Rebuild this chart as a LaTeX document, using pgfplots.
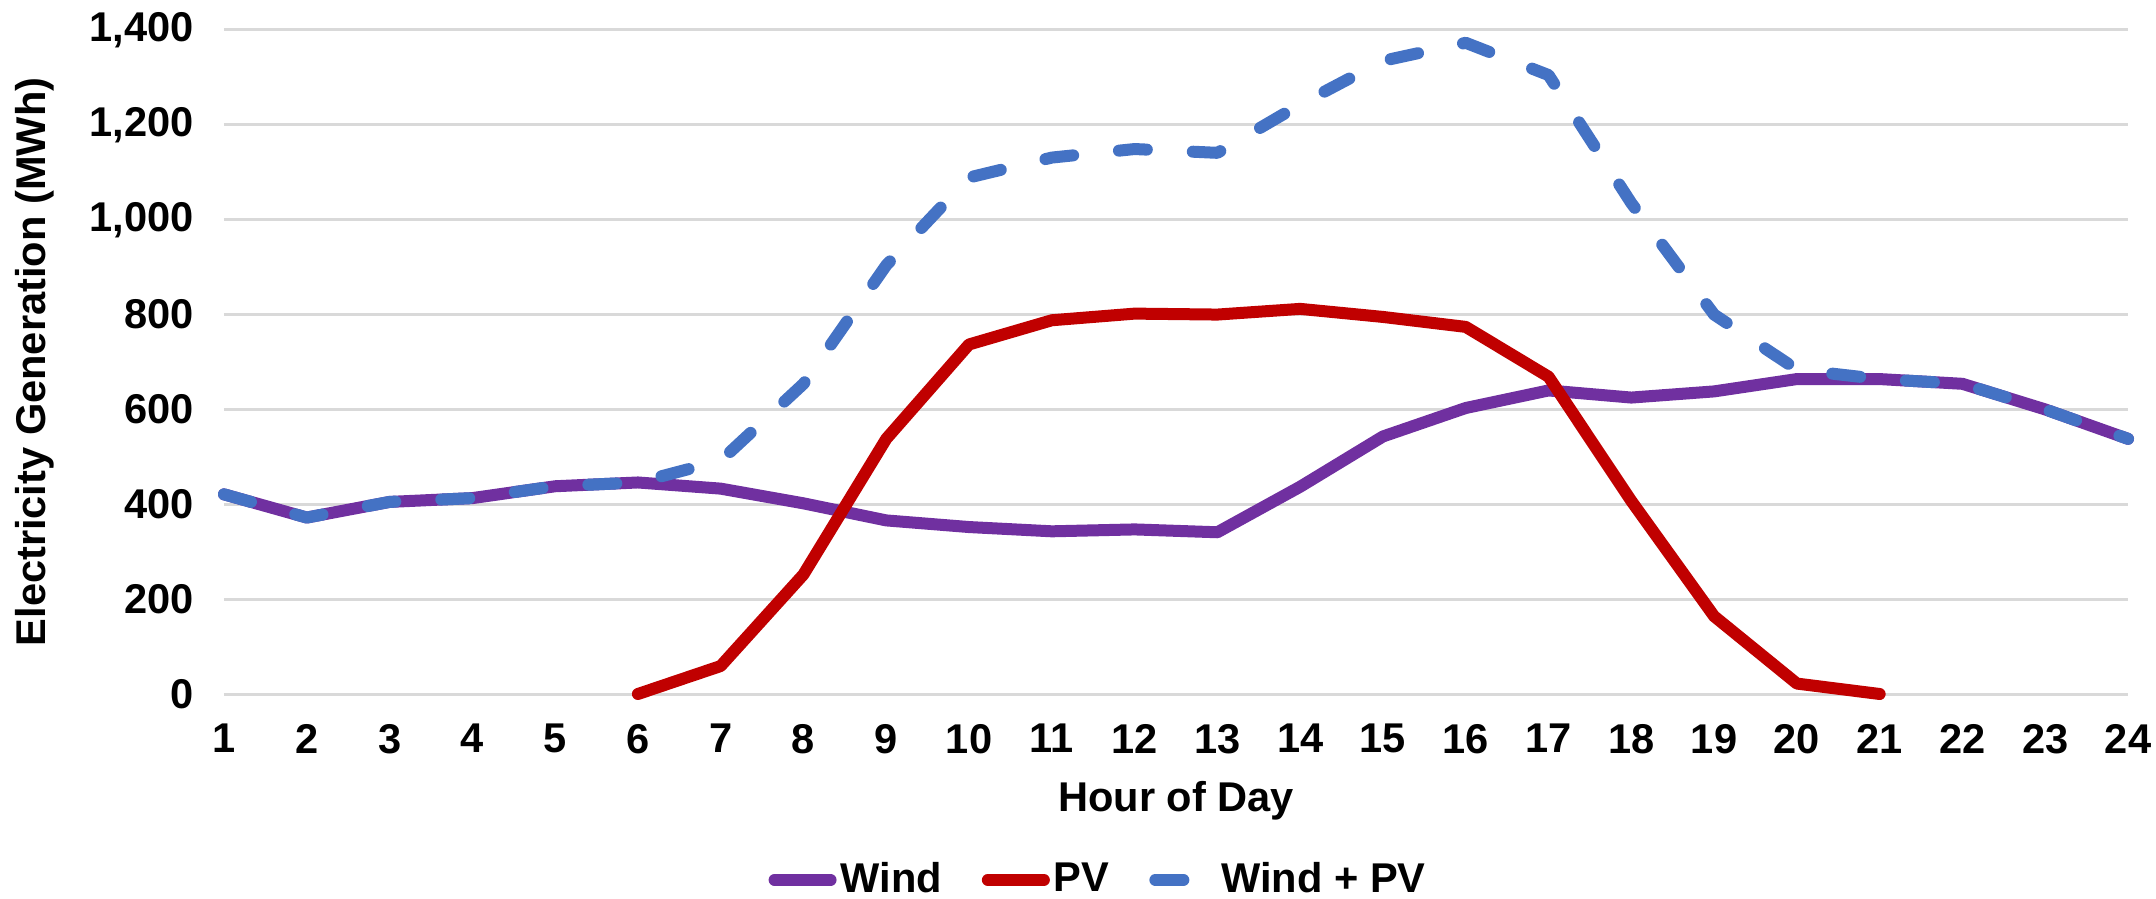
\documentclass[border=0pt]{standalone}
\usepackage{fontspec}
\setmainfont{Liberation Sans}
\usepackage{pgfplots}
\pgfplotsset{compat=1.18}
\definecolor{windc}{HTML}{7030A0}
\definecolor{pvc}{HTML}{C00000}
\definecolor{sumc}{HTML}{4472C4}
\definecolor{gridc}{HTML}{D9D9D9}
\newcommand{\cf}{\fontsize{10.4bp}{12bp}\selectfont\bfseries}
\begin{document}
\begin{tikzpicture}
\path[use as bounding box] (0,0) rectangle (539bp,224.75bp);
\begin{axis}[
  at={(56bp,51.25bp)}, anchor=south west,
  scale only axis, width=476bp, height=166bp,
  xmin=1, xmax=24, ymin=0, ymax=1400,
  xtick={1,...,24}, ytick={0,200,...,1400},
  axis line style={draw=none},
  major tick length=0pt,
  ymajorgrids, grid style={gridc, line width=0.75bp},
  clip=false,
  font=\cf,
  ticklabel style={font=\cf},
  /pgf/number format/assume math mode=true,
  /pgf/number format/1000 sep={,},
  xticklabel style={yshift=-4bp},
  yticklabel style={xshift=-4bp},
  xlabel={Hour of Day},
  ylabel={Electricity Generation (MWh)},
  xlabel style={at={(axis description cs:0.5,-0.16)}, anchor=center, font=\cf},
  ylabel style={at={(axis description cs:-0.0993,0.5)}, anchor=center, font=\cf},
  legend style={at={(axis description cs:0.4596,-0.28)}, anchor=center, draw=none,
    fill=none, font=\cf, legend columns=3,
    /tikz/every even column/.append style={column sep=9bp},
    nodes={inner sep=1bp}},
  legend image code/.code={\draw[#1] (0.5bp,0bp) -- (14.5bp,0bp);},
]
\addlegendimage{windc, line width=3bp, line cap=round}
\addlegendentry{Wind}
\addlegendimage{pvc, line width=3bp, line cap=round}
\addlegendentry{PV}
\addlegendimage{sumc, line width=3bp, line cap=round, dash pattern=on 7bp off 30bp}
\addlegendentry{Wind + PV}
\addplot[forget plot, windc, line width=3bp, line cap=round, line join=round] coordinates {
(1,421) (2,372) (3,405) (4,413) (5,438) (6,446) (7,433) (8,402) (9,366) (10,352)
(11,343) (12,347) (13,341) (14,437) (15,543) (16,603) (17,640) (18,625) (19,638)
(20,664) (21,664) (22,654) (23,600) (24,538)};
\addplot[forget plot, pvc, line width=3bp, line cap=round, line join=round] coordinates {
(6,0) (7,59) (8,252) (9,538) (10,737) (11,788) (12,802) (13,800) (14,812) (15,795)
(16,774) (17,669) (18,407) (19,164) (20,22) (21,0)};
\addplot[forget plot, sumc, line width=3bp, line cap=round, line join=round,
  dash pattern=on 7bp off 11.5bp] coordinates {
(1,421) (2,372) (3,405) (4,413) (5,438) (6,446) (7,492) (8,654) (9,904) (10,1089)
(11,1131) (12,1149) (13,1141) (14,1243) (15,1335) (16,1373) (17,1305) (18,1035)
(19,800) (20,684) (21,664) (22,654) (23,600) (24,538)};
\end{axis}
\end{tikzpicture}
\end{document}
